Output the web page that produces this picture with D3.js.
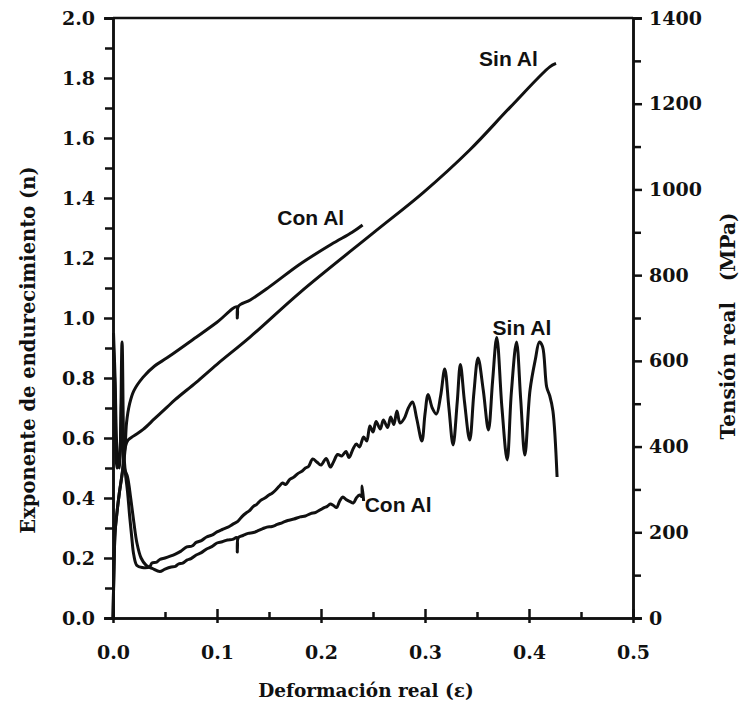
<!DOCTYPE html>
<html>
<head>
<meta charset="utf-8">
<script src="https://cdn.jsdelivr.net/npm/d3@7"></script>
<style>
  body { margin: 0; background: #fff; }
  .tick text { font-family: "DejaVu Serif", serif; font-weight: bold; font-size: 19px; fill: #111; }
  .axis path, .axis line { stroke: #111; stroke-width: 2.5; }
  .lbl { font-family: "DejaVu Serif", serif; font-weight: bold; fill: #111; }
  .note { font-family: "Liberation Sans", Arial, sans-serif; font-weight: bold; font-size: 21px; fill: #111; }
</style>
</head>
<body>
<div id="chart"></div>
<script>
// Data: [strain, value]
// tension real (MPa), right axis
const stressSinAl = [[0,0],[0.001,120],[0.002,200],[0.004,250],[0.006,290],[0.009,340],[0.0115,395],[0.0144,415],[0.02,425],[0.029,440],[0.04,465],[0.052,492],[0.06,510],[0.08,550],[0.1,592],[0.132,656],[0.18,760],[0.25,898],[0.298,992],[0.343,1092],[0.382,1192],[0.42,1286],[0.426,1294]];
const stressConAl = [[0,0],[0.001,120],[0.002,200],[0.004,250],[0.006,290],[0.009,340],[0.0115,390],[0.013,455],[0.016,500],[0.02,530],[0.029,562],[0.04,588],[0.052,607],[0.08,655],[0.1,690],[0.119,726],[0.1195,700],[0.1205,727],[0.132,742],[0.15,772],[0.18,826],[0.21,872],[0.23,900],[0.24,917]];
// exponente de endurecimiento n, left axis
const nSinAl = [[0.0005,0.95],[0.002,0.8],[0.004,0.55],[0.006,0.5],[0.0087,0.92],[0.0105,0.55],[0.012,0.48],[0.014,0.42],[0.016,0.34],[0.018,0.27],[0.02,0.21],[0.023,0.175],[0.028,0.168],[0.035,0.17],[0.0375,0.183],[0.042,0.186],[0.045,0.195],[0.05,0.2],[0.055,0.206],[0.06,0.213],[0.065,0.222],[0.071,0.237],[0.076,0.24],[0.08,0.252],[0.085,0.258],[0.09,0.27],[0.095,0.276],[0.1,0.287],[0.105,0.295],[0.11,0.302],[0.115,0.312],[0.12,0.322],[0.124,0.338],[0.128,0.35],[0.131,0.357],[0.135,0.372],[0.138,0.378],[0.142,0.392],[0.146,0.4],[0.15,0.41],[0.153,0.416],[0.156,0.425],[0.16,0.44],[0.163,0.45],[0.166,0.445],[0.17,0.462],[0.174,0.47],[0.178,0.482],[0.182,0.49],[0.185,0.5],[0.188,0.505],[0.192,0.53],[0.196,0.52],[0.2,0.51],[0.205,0.532],[0.209,0.503],[0.212,0.52],[0.216,0.545],[0.22,0.54],[0.224,0.555],[0.227,0.535],[0.231,0.565],[0.234,0.58],[0.237,0.57],[0.241,0.603],[0.244,0.59],[0.247,0.64],[0.25,0.62],[0.253,0.655],[0.257,0.63],[0.26,0.66],[0.264,0.635],[0.267,0.67],[0.27,0.645],[0.273,0.69],[0.276,0.65],[0.28,0.665],[0.284,0.7],[0.288,0.72],[0.292,0.665],[0.297,0.59],[0.3,0.68],[0.303,0.745],[0.307,0.7],[0.311,0.68],[0.315,0.74],[0.319,0.83],[0.323,0.7],[0.327,0.577],[0.331,0.72],[0.334,0.845],[0.338,0.72],[0.343,0.593],[0.347,0.75],[0.351,0.867],[0.356,0.76],[0.361,0.627],[0.365,0.79],[0.369,0.935],[0.374,0.7],[0.379,0.527],[0.383,0.75],[0.388,0.92],[0.392,0.73],[0.396,0.543],[0.401,0.76],[0.406,0.86],[0.41,0.92],[0.413,0.905],[0.417,0.77],[0.42,0.74],[0.423,0.69],[0.427,0.47]];
const nConAl = [[0.0005,0.9],[0.002,0.75],[0.004,0.5],[0.006,0.52],[0.0085,0.73],[0.011,0.5],[0.014,0.47],[0.017,0.4],[0.02,0.32],[0.023,0.25],[0.027,0.2],[0.032,0.175],[0.038,0.165],[0.045,0.155],[0.05,0.163],[0.056,0.17],[0.06,0.172],[0.063,0.18],[0.067,0.183],[0.071,0.193],[0.075,0.198],[0.08,0.21],[0.085,0.218],[0.09,0.23],[0.095,0.238],[0.1,0.25],[0.105,0.254],[0.11,0.26],[0.115,0.262],[0.119,0.268],[0.1195,0.22],[0.1205,0.268],[0.125,0.275],[0.13,0.282],[0.135,0.285],[0.14,0.292],[0.144,0.298],[0.148,0.303],[0.153,0.305],[0.158,0.312],[0.163,0.318],[0.168,0.325],[0.174,0.33],[0.18,0.337],[0.185,0.34],[0.19,0.348],[0.195,0.352],[0.2,0.362],[0.203,0.368],[0.206,0.372],[0.209,0.38],[0.212,0.375],[0.215,0.368],[0.218,0.39],[0.221,0.403],[0.224,0.395],[0.228,0.388],[0.231,0.383],[0.234,0.4],[0.237,0.41],[0.239,0.405],[0.2395,0.44],[0.241,0.39]];

const nTicks = [0, 0.2, 0.4, 0.6, 0.8, 1.0, 1.2, 1.4, 1.6, 1.8, 2.0];
const stressTicks = [0, 200, 400, 600, 800, 1000, 1200, 1400];
const strainTicks = [0, 0.1, 0.2, 0.3, 0.4, 0.5];

const W = 739, H = 702;
const plot = { left: 113, right: 633, top: 18, bottom: 618 };

const svg = d3.select("#chart").append("svg")
    .attr("width", W)
    .attr("height", H);

const x = d3.scaleLinear().domain([0, 0.5]).range([plot.left, plot.right]);
const yN = d3.scaleLinear().domain([0, 2]).range([plot.bottom, plot.top]);
const yS = d3.scaleLinear().domain([0, 1400]).range([plot.bottom, plot.top]);

// top frame line
svg.append("line")
    .attr("x1", plot.left).attr("x2", plot.right)
    .attr("y1", plot.top).attr("y2", plot.top)
    .attr("stroke", "#111").attr("stroke-width", 2.5);

// left axis, minor ticks first
svg.append("g").attr("class", "axis")
    .attr("transform", `translate(${plot.left},0)`)
    .call(d3.axisLeft(yN).tickValues(d3.range(0.1, 2, 0.2)).tickSize(8).tickFormat(""));
svg.append("g").attr("class", "axis")
    .attr("transform", `translate(${plot.left},0)`)
    .call(d3.axisLeft(yN).tickValues(nTicks).tickSize(9).tickPadding(9).tickFormat(d3.format(".1f")));

// right axis
svg.append("g").attr("class", "axis")
    .attr("transform", `translate(${plot.right},0)`)
    .call(d3.axisRight(yS).tickValues(d3.range(100, 1400, 200)).tickSize(8).tickFormat(""));
svg.append("g").attr("class", "axis")
    .attr("transform", `translate(${plot.right},0)`)
    .call(d3.axisRight(yS).tickValues(stressTicks).tickSize(9).tickPadding(7).tickFormat(d3.format("d")));

// bottom axis, ticks pointing into the plot
svg.append("g").attr("class", "axis")
    .attr("transform", `translate(0,${plot.bottom})`)
    .call(d3.axisBottom(x).tickValues(d3.range(0.05, 0.5, 0.1)).tickSizeInner(-6).tickSizeOuter(0).tickFormat(""));
const xAxisGroup = svg.append("g").attr("class", "axis")
    .attr("transform", `translate(0,${plot.bottom})`)
    .call(d3.axisBottom(x).tickValues(strainTicks).tickSizeInner(-9).tickSizeOuter(0).tickPadding(28).tickFormat(d3.format(".1f")));
xAxisGroup.selectAll(".tick line").attr("y1", 5);

// curves
const line = (ys) => d3.line().x(d => x(d[0])).y(d => ys(d[1])).curve(d3.curveCatmullRom.alpha(0.5));
[[stressSinAl, yS], [stressConAl, yS], [nSinAl, yN], [nConAl, yN]].forEach(([data, ys]) => {
    svg.append("path")
        .datum(data)
        .attr("d", line(ys))
        .attr("fill", "none")
        .attr("stroke", "#111")
        .attr("stroke-width", 3)
        .attr("stroke-linejoin", "round");
});

// notes next to the curves
const notes = [
    { text: "Sin Al", at: [0.352, 1.84] },
    { text: "Con Al", at: [0.158, 1.31] },
    { text: "Sin Al", at: [0.365, 0.943] },
    { text: "Con Al", at: [0.242, 0.355] }
];
svg.selectAll("text.note").data(notes).enter().append("text")
    .attr("class", "note")
    .attr("x", d => x(d.at[0]))
    .attr("y", d => yN(d.at[1]))
    .text(d => d.text);

// axis titles
svg.append("text").attr("class", "lbl")
    .attr("transform", `translate(35,${350}) rotate(-90)`)
    .attr("text-anchor", "middle")
    .style("font-size", "19.5px")
    .text("Exponente de endurecimiento (n)");

svg.append("text").attr("class", "lbl")
    .attr("transform", `translate(735,${326}) rotate(-90)`)
    .attr("text-anchor", "middle")
    .style("font-size", "20px")
    .style("white-space", "pre")
    .text("Tensión real   (MPa)");

svg.append("text").attr("class", "lbl")
    .attr("x", 366).attr("y", 697)
    .attr("text-anchor", "middle")
    .style("font-size", "18.5px")
    .text("Deformación real (ε)");
</script>
</body>
</html>
